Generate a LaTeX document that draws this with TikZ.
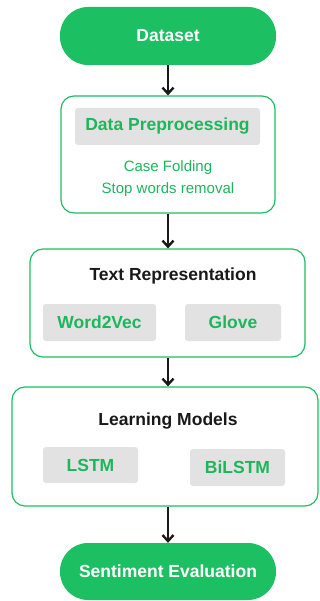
\documentclass[tikz,border=0pt]{standalone}
\usepackage{fontspec}
\setmainfont{Liberation Sans}
\usetikzlibrary{arrows.meta,positioning}
\definecolor{leaf}{RGB}{29,191,99}
\definecolor{leaftext}{RGB}{30,182,92}
\definecolor{chip}{RGB}{227,226,226}
\definecolor{ink}{RGB}{25,25,25}

\tikzset{
  pill/.style={fill=leaf,text=white,font=\fontsize{17.5}{20}\selectfont\bfseries,
    rounded corners=28pt,minimum width=216pt,inner sep=0pt},
  stage/.style={draw=leaf,line width=1.2pt,fill=white,rounded corners=13pt,inner sep=0pt},
  chipbox/.style={fill=chip,rounded corners=3pt,text=leaftext,inner sep=0pt,
    font=\fontsize{17.5}{20}\selectfont\bfseries},
  heading/.style={text=ink,font=\fontsize{17.5}{20}\selectfont\bfseries},
  item/.style={text=leaftext,font=\fontsize{15}{18}\selectfont},
  flow/.style={ink,line width=2.6pt,-{Straight Barb[length=6pt,width=11pt,line width=2.4pt]}}
}

\begin{document}
\begin{tikzpicture}[x=1pt,y=-1pt]
    \useasboundingbox (0,0) rectangle (320,601);
    % top and bottom pills
    \node[pill,minimum height=58pt] (data) at (168,36) {Dataset};
    \node[pill,minimum height=57pt] (sent) at (168,571.5) {Sentiment Evaluation};
    % preprocessing
    \node[stage,minimum width=214pt,minimum height=117pt] (prep) at (168,154.5) {};
    \node[chipbox,minimum width=185pt,minimum height=37pt] (prepchip) at (167.5,126.5) {Data Preprocessing};
    \node[item] (fold) at (168,168) {Case Folding};
    \node[item] (stop) at (168,190) {Stop words removal};
    % text representation
    \node[stage,minimum width=275pt,minimum height=108pt] (rep) at (167.5,303) {};
    \node[heading] (reptitle) at (173,276) {Text Representation};
    \node[chipbox,minimum width=113pt,minimum height=37pt] (wvec) at (99.5,322.5) {Word2Vec};
    \node[chipbox,minimum width=96pt,minimum height=37pt] (glove) at (233,322.5) {Glove};
    % learning models
    \node[stage,minimum width=306pt,minimum height=119pt] (learn) at (165,446.5) {};
    \node[heading] (learntitle) at (168,421) {Learning Models};
    \node[chipbox,minimum width=95pt,minimum height=36pt] (lstm) at (90.5,465) {LSTM};
    \node[chipbox,minimum width=95pt,minimum height=37pt] (bilstm) at (237.5,467.5) {BiLSTM};
    % arrows
    \draw[flow] (data.south) -- (prep.north);
    \draw[flow] (prep.south) -- (rep.north -| prep.south);
    \draw[flow] (rep.south -| prep.south) -- (learn.north -| prep.south);
    \draw[flow] (learn.south -| prep.south) -- (sent.north);
\end{tikzpicture}
\end{document}
